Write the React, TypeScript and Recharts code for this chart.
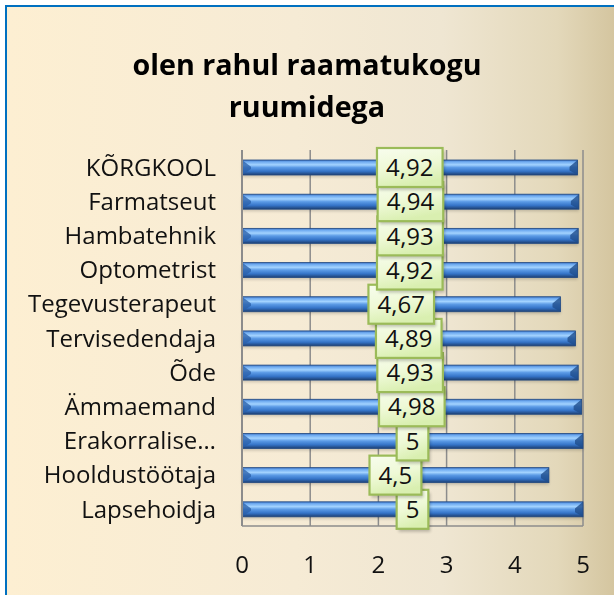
import React from 'react';
import { BarChart, Bar, XAxis, YAxis, CartesianGrid, LabelList } from 'recharts';

// Excel order: first category drawn at the bottom
const categories = [
  'Lapsehoidja',
  'Hooldustöötaja',
  'Erakorralise…',
  'Ämmaemand',
  'Õde',
  'Tervisedendaja',
  'Tegevusterapeut',
  'Optometrist',
  'Hambatehnik',
  'Farmatseut',
  'KÕRGKOOL',
];
const scores = [5, 4.5, 5, 4.98, 4.93, 4.89, 4.67, 4.92, 4.93, 4.94, 4.92];
const xTicks = [0, 1, 2, 3, 4, 5];

const data = categories.map((name, i) => ({ name, value: scores[i] }));

const FONT = '"Open Sans", "DejaVu Sans", sans-serif';
const fmt = (v: number) => String(v).replace('.', ',');

const CategoryTick = (props: any) => {
  const { y, payload } = props;
  return (
    <text x={216} y={y} dy="0.36em" textAnchor="end" fontFamily={FONT} fontSize={24} fill="#111">
      {payload.value}
    </text>
  );
};

const ValueTick = (props: any) => {
  const { x, payload } = props;
  return (
    <text x={x} y={564} dy="0.36em" textAnchor="middle" fontFamily={FONT} fontSize={24} fill="#111">
      {payload.value}
    </text>
  );
};

const BevelBar = (props: any) => {
  const { x, y, width, height } = props;
  if (!width || width <= 0) return null;
  const r = x + width;
  return (
    <g>
      <rect x={x} y={y + 2} width={width} height={height} fill="#000" opacity={0.18} filter="url(#barShadow)" />
      <rect x={x} y={y} width={width} height={height} fill="url(#barFill)" />
      <polygon points={`${x},${y} ${x + 9},${y + height * 0.45} ${x + 9},${y + height * 0.6} ${x},${y + height}`} fill="#2a5fa8" opacity={0.75} />
      <polygon points={`${r},${y} ${r - 8},${y + height * 0.45} ${r - 8},${y + height * 0.7} ${r},${y + height}`} fill="#1f4d8c" opacity={0.8} />
      <rect x={x} y={y} width={width} height={height} fill="none" stroke="#234a82" strokeWidth={0.8} />
    </g>
  );
};

const ValueBox = (props: any) => {
  const { x, y, width, height, value } = props;
  const s = fmt(value);
  let w = 18;
  for (const ch of s) w += ch === ',' ? 6.5 : 13.7;
  const h = 39;
  const cx = x + width / 2;
  const cy = y + height / 2;
  return (
    <g>
      <rect x={cx - w / 2 + 2} y={cy - h / 2 + 3} width={w} height={h} fill="#000" opacity={0.22} filter="url(#boxShadow)" />
      <rect x={cx - w / 2} y={cy - h / 2} width={w} height={h} fill="url(#boxFill)" stroke="#9bbb59" strokeWidth={2.2} />
      <text x={cx} y={cy} dy="0.36em" textAnchor="middle" fontFamily={FONT} fontSize={24} fill="#111">
        {s}
      </text>
    </g>
  );
};

export default function App() {
  return (
    <div style={{ position: 'fixed', left: 0, top: 0, width: 614, height: 595, overflow: 'hidden' }}>
      <div
        style={{
          position: 'absolute',
          left: 5,
          top: 5,
          width: 640,
          height: 640,
          borderLeft: '2px solid #0070c0',
          borderTop: '2px solid #0070c0',
          background: 'linear-gradient(to right, #fdefd2 0%, #f6ebd5 45%, #efe6d2 68%, #e3d8ba 86%, #d4c59f 95%, #d2c39d 100%)',
        }}
      />
      <div
        style={{
          position: 'absolute',
          left: 0,
          top: 43,
          width: 614,
          textAlign: 'center',
          fontFamily: FONT,
          fontWeight: 700,
          fontSize: 28.7,
          lineHeight: '42px',
          color: '#000',
        }}
      >
        olen rahul raamatukogu
        <br />
        ruumidega
      </div>
      <div style={{ position: 'absolute', left: 0, top: 0 }}>
        <BarChart
          width={614}
          height={595}
          data={data}
          layout="vertical"
          margin={{ top: 150, right: 31, bottom: 29, left: 0 }}
          barCategoryGap={0}
        >
          <defs>
            <linearGradient id="barFill" x1="0" y1="0" x2="0" y2="1">
              <stop offset="0%" stopColor="#3a6fbf" />
              <stop offset="12%" stopColor="#6eaaf0" />
              <stop offset="32%" stopColor="#a3d3ff" />
              <stop offset="50%" stopColor="#5c9be6" />
              <stop offset="75%" stopColor="#3574c8" />
              <stop offset="100%" stopColor="#1d3f72" />
            </linearGradient>
            <linearGradient id="boxFill" x1="0" y1="0" x2="0.3" y2="1">
              <stop offset="0%" stopColor="#f8fdee" />
              <stop offset="55%" stopColor="#eef9d6" />
              <stop offset="100%" stopColor="#d9efb0" />
            </linearGradient>
            <filter id="barShadow" x="-5%" y="-50%" width="110%" height="200%">
              <feGaussianBlur stdDeviation="1.8" />
            </filter>
            <filter id="boxShadow" x="-20%" y="-20%" width="140%" height="140%">
              <feGaussianBlur stdDeviation="1.5" />
            </filter>
          </defs>
          <CartesianGrid horizontal={false} vertical stroke="#8c8c8c" strokeWidth={1.5} />
          <XAxis
            type="number"
            domain={[0, 5]}
            ticks={xTicks}
            tick={<ValueTick />}
            tickLine={false}
            axisLine={{ stroke: '#8c8c8c', strokeWidth: 1.5 }}
            height={40}
          />
          <YAxis
            type="category"
            dataKey="name"
            reversed
            width={242}
            tick={<CategoryTick />}
            tickLine={false}
            axisLine={{ stroke: '#8c8c8c', strokeWidth: 2 }}
            interval={0}
          />
          <Bar dataKey="value" barSize={15} shape={<BevelBar />} isAnimationActive={false}>
            <LabelList dataKey="value" content={<ValueBox />} />
          </Bar>
        </BarChart>
      </div>
    </div>
  );
}
